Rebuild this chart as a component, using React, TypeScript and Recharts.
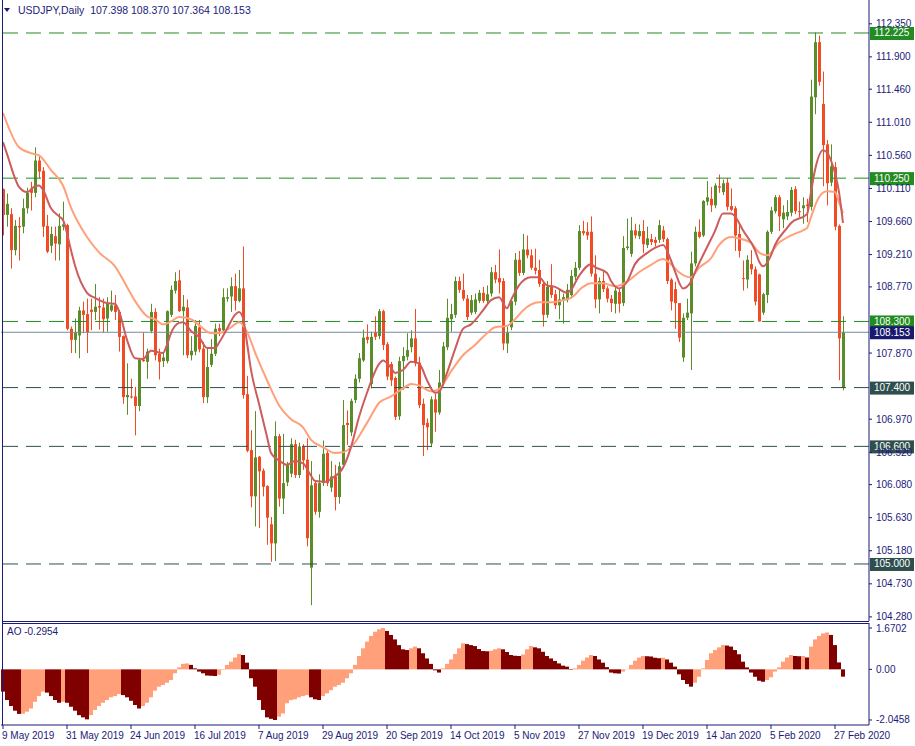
import React from 'react';
import { ComposedChart, Bar, Line, XAxis, YAxis, ReferenceLine, Cell } from 'recharts';

// time axis labels, one every 16 daily bars
const tickLabels = [
  '9 May 2019', '31 May 2019', '24 Jun 2019', '16 Jul 2019', '7 Aug 2019', '29 Aug 2019', '20 Sep 2019',
  '14 Oct 2019', '5 Nov 2019', '27 Nov 2019', '19 Dec 2019', '14 Jan 2020', '5 Feb 2020', '27 Feb 2020',
];

// USDJPY daily OHLC
const opens = [
  110.10, 109.75, 109.76, 109.27, 109.60, 109.59, 109.84, 110.11, 110.05, 110.49, 110.35, 109.60, 109.33, 109.46, 109.35, 109.59,
  109.61, 108.20, 108.05, 108.11, 108.45, 108.40, 108.46, 108.43, 108.51, 108.49, 108.34, 108.45, 108.52, 108.43, 108.10, 107.27,
  107.28, 107.28, 107.15, 107.78, 107.75, 108.17, 108.43, 107.86, 107.76, 107.76, 108.39, 108.72, 108.86, 108.44, 108.49, 107.84,
  107.89, 108.22, 107.93, 107.27, 107.71, 107.86, 108.21, 108.18, 108.61, 108.64, 108.78, 108.58, 108.75, 107.31, 106.55, 105.92,
  106.46, 106.27, 106.06, 105.54, 105.28, 106.74, 105.89, 106.11, 106.23, 106.63, 106.21, 106.60, 106.42, 104.95, 106.10, 105.71,
  106.10, 106.51, 106.04, 106.19, 105.91, 106.35, 106.92, 106.79, 107.23, 107.52, 107.77, 108.09, 107.45, 108.15, 108.10, 108.44,
  107.99, 107.72, 107.53, 107.01, 107.76, 107.82, 107.95, 108.07, 107.74, 107.18, 106.92, 106.64, 107.24, 107.06, 107.46, 107.95,
  108.33, 108.39, 108.85, 108.73, 108.61, 108.42, 108.43, 108.58, 108.69, 108.58, 108.68, 108.97, 108.89, 108.85, 108.00, 108.22,
  108.57, 109.14, 108.96, 109.28, 109.20, 109.03, 109.00, 108.81, 108.39, 108.79, 108.67, 108.52, 108.59, 108.59, 108.66, 108.91,
  109.03, 109.53, 109.52, 109.52, 108.95, 108.60, 108.85, 108.75, 108.61, 108.54, 108.70, 108.55, 109.30, 109.22, 109.54, 109.46,
  109.53, 109.34, 109.42, 109.41, 109.41, 109.54, 109.42, 108.87, 108.74, 108.55, 107.81, 108.35, 108.41, 109.09, 109.52, 109.47,
  109.93, 109.97, 109.88, 110.14, 110.06, 110.19, 109.87, 109.84, 109.49, 108.89, 108.87, 109.08, 109.01, 108.94, 108.42, 108.66,
  109.52, 109.80, 109.99, 109.69, 109.73, 109.78, 110.10, 109.80, 109.84, 109.89, 109.86, 111.35, 112.10, 111.26, 110.71, 110.19,
  110.40, 109.60, 107.398,
];
const highs = [
  110.11, 110.04, 109.84, 109.68, 109.72, 109.97, 110.12, 110.20, 110.67, 110.56, 110.40, 109.75, 109.59, 109.59, 109.77, 109.93,
  109.63, 108.23, 108.34, 108.50, 108.57, 108.61, 108.61, 108.81, 108.63, 108.61, 108.63, 108.72, 108.66, 108.45, 108.11, 107.73,
  107.52, 107.41, 107.80, 108.15, 107.93, 108.54, 108.48, 107.93, 107.87, 108.45, 108.79, 108.97, 109.00, 108.66, 108.60, 108.10,
  108.32, 108.32, 108.02, 107.93, 108.06, 108.27, 108.27, 108.75, 108.75, 108.90, 108.95, 109.00, 109.32, 107.56, 106.82, 107.08,
  106.47, 106.30, 106.07, 105.64, 106.94, 106.77, 106.77, 106.39, 106.71, 106.69, 106.65, 106.63, 106.71, 106.40, 106.12, 106.22,
  106.68, 106.55, 106.40, 106.35, 106.39, 107.23, 107.09, 107.25, 107.58, 107.87, 108.19, 108.26, 108.16, 108.37, 108.47, 108.46,
  108.02, 107.75, 107.55, 107.82, 107.95, 108.14, 108.18, 108.47, 107.82, 107.25, 106.98, 107.28, 107.32, 107.64, 108.02, 108.61,
  108.54, 108.91, 108.91, 108.95, 108.66, 108.66, 108.68, 108.73, 108.77, 108.79, 109.04, 109.07, 109.28, 108.89, 108.23, 108.63,
  109.23, 109.26, 109.49, 109.47, 109.28, 109.29, 109.14, 108.84, 108.85, 109.08, 108.73, 108.74, 108.68, 108.81, 109.00, 109.11,
  109.61, 109.67, 109.65, 109.73, 109.20, 108.90, 109.00, 108.78, 108.66, 108.77, 108.75, 109.46, 109.70, 109.72, 109.63, 109.62,
  109.68, 109.59, 109.49, 109.45, 109.68, 109.60, 109.44, 108.89, 108.84, 108.55, 108.41, 108.61, 109.25, 109.59, 109.69, 109.95,
  110.21, 110.13, 110.18, 110.30, 110.23, 110.25, 110.11, 109.87, 109.61, 109.13, 109.20, 109.27, 109.05, 108.95, 108.69, 109.54,
  109.86, 110.02, 110.02, 109.88, 109.95, 110.13, 110.14, 109.93, 109.99, 109.97, 111.59, 112.23, 112.19, 111.70, 110.77, 110.71,
  110.47, 109.62, 108.37,
];
const lows = [
  109.47, 109.59, 109.02, 109.20, 109.13, 109.50, 109.77, 109.81, 109.99, 110.25, 109.45, 109.23, 109.23, 109.13, 109.13, 109.54,
  108.18, 107.87, 107.87, 107.80, 108.14, 107.87, 108.18, 108.32, 108.19, 108.15, 108.16, 108.43, 108.32, 107.89, 107.18, 107.03,
  107.25, 106.75, 107.08, 107.75, 107.52, 108.14, 107.77, 107.51, 107.68, 107.73, 108.36, 108.68, 108.43, 107.84, 107.80, 107.77,
  107.84, 107.88, 107.19, 107.19, 107.68, 107.83, 108.10, 108.14, 108.57, 108.43, 108.45, 108.56, 107.25, 106.52, 105.77, 105.51,
  105.49, 105.92, 105.26, 105.03, 105.04, 105.78, 105.68, 106.06, 106.18, 106.17, 106.17, 106.28, 105.24, 104.44, 105.67, 105.63,
  106.06, 106.06, 105.98, 105.73, 105.82, 106.32, 106.62, 106.74, 107.19, 107.47, 107.75, 108.00, 107.39, 108.05, 108.06, 107.91,
  107.50, 107.42, 106.96, 106.96, 107.37, 107.77, 107.88, 107.69, 107.12, 106.47, 106.55, 106.59, 106.80, 107.03, 107.42, 107.91,
  108.16, 108.35, 108.69, 108.58, 108.32, 108.39, 108.40, 108.55, 108.55, 108.55, 108.64, 108.82, 108.68, 107.91, 107.87, 108.18,
  108.52, 108.92, 108.93, 109.16, 109.00, 108.94, 108.77, 108.23, 108.35, 108.62, 108.47, 108.33, 108.27, 108.56, 108.62, 108.86,
  109.00, 109.47, 109.41, 108.91, 108.48, 108.41, 108.70, 108.56, 108.43, 108.41, 108.42, 108.51, 109.27, 109.18, 109.43, 109.42,
  109.23, 109.30, 109.34, 109.32, 109.37, 109.38, 108.81, 108.45, 108.20, 108.02, 107.75, 108.32, 107.64, 109.05, 109.43, 109.45,
  109.88, 109.79, 109.84, 110.05, 110.02, 109.81, 109.80, 109.26, 109.17, 108.72, 108.75, 108.94, 108.52, 108.30, 108.39, 108.55,
  109.49, 109.77, 109.53, 109.57, 109.68, 109.73, 109.76, 109.72, 109.63, 109.65, 109.81, 111.12, 111.51, 110.14, 109.88, 110.14,
  109.54, 107.50, 107.364,
];
const closes = [
  109.75, 109.90, 109.27, 109.60, 109.58, 109.84, 110.05, 110.05, 110.49, 110.34, 109.59, 109.25, 109.49, 109.36, 109.60, 109.62,
  108.20, 108.05, 108.15, 108.45, 108.39, 108.15, 108.43, 108.50, 108.49, 108.33, 108.55, 108.52, 108.43, 108.09, 107.27, 107.30,
  107.27, 107.15, 107.78, 107.76, 107.89, 108.43, 107.84, 107.75, 107.81, 108.44, 108.73, 108.85, 108.44, 108.50, 107.84, 107.90,
  108.24, 107.92, 107.27, 107.68, 107.86, 108.20, 108.17, 108.63, 108.63, 108.78, 108.58, 108.75, 107.30, 106.54, 105.92, 106.45,
  106.26, 106.05, 105.63, 105.28, 106.74, 105.89, 106.10, 106.35, 106.63, 106.21, 106.60, 106.41, 105.35, 106.07, 105.71, 106.10,
  106.50, 106.10, 106.19, 105.91, 106.33, 106.89, 106.89, 107.22, 107.52, 107.80, 108.08, 108.05, 108.09, 108.09, 108.44, 107.98,
  107.55, 107.50, 107.00, 107.76, 107.83, 107.91, 108.07, 107.73, 107.16, 106.89, 106.86, 107.24, 107.06, 107.47, 107.96, 108.35,
  108.40, 108.85, 108.73, 108.61, 108.36, 108.59, 108.60, 108.69, 108.58, 108.67, 108.97, 108.87, 108.83, 108.00, 108.15, 108.58,
  109.14, 108.96, 109.28, 109.20, 109.03, 108.99, 108.81, 108.39, 108.77, 108.66, 108.52, 108.60, 108.63, 108.73, 108.92, 109.03,
  109.53, 109.50, 109.47, 108.95, 108.60, 108.85, 108.74, 108.61, 108.55, 108.72, 108.54, 109.30, 109.32, 109.54, 109.47, 109.53,
  109.35, 109.43, 109.38, 109.37, 109.61, 109.42, 108.85, 108.57, 108.55, 108.08, 108.35, 108.42, 109.09, 109.52, 109.45, 109.94,
  109.99, 109.88, 110.15, 110.12, 110.18, 109.86, 109.82, 109.47, 109.26, 108.88, 109.14, 109.01, 108.57, 108.30, 108.67, 109.52,
  109.81, 109.99, 109.73, 109.78, 109.79, 110.09, 109.80, 109.79, 109.88, 109.87, 111.36, 112.10, 111.56, 110.70, 110.18, 110.41,
  109.59, 108.07, 108.153,
];

// moving averages, read as [bar, price] points along each line
const maFastPts: [number, number][] = [
  [0, 110.74], [1, 110.58], [3, 110.25], [4, 110.13], [6, 110.06], [8, 110.14], [9, 110.15], [10, 110.09], [12, 109.84],
  [14, 109.73], [15, 109.68], [17, 109.27], [18, 109.06], [21, 108.69], [23, 108.62], [26, 108.55], [28, 108.54], [29, 108.44],
  [31, 108.05], [33, 107.80], [35, 107.79], [37, 107.90], [40, 107.87], [41, 107.98], [42, 108.14], [44, 108.28], [45, 108.29],
  [47, 108.17], [49, 108.09], [51, 107.94], [53, 107.94], [54, 108.01], [56, 108.20], [58, 108.39], [59, 108.43], [60, 108.35],
  [61, 108.01], [62, 107.64], [64, 107.18], [66, 106.73], [67, 106.51], [69, 106.41], [71, 106.35], [73, 106.40], [75, 106.37],
  [77, 106.20], [78, 106.13], [81, 106.12], [82, 106.16], [85, 106.31], [87, 106.59], [89, 107.00], [91, 107.33], [94, 107.72],
  [95, 107.77], [97, 107.67], [98, 107.60], [100, 107.64], [102, 107.75], [104, 107.73], [106, 107.50], [108, 107.33], [109, 107.34],
  [111, 107.60], [113, 107.92], [115, 108.20], [117, 108.26], [120, 108.45], [122, 108.59], [124, 108.63], [126, 108.48], [127, 108.59],
  [129, 108.79], [132, 108.90], [134, 108.90], [136, 108.79], [138, 108.77], [141, 108.69], [142, 108.73], [144, 108.92], [147, 109.08],
  [148, 109.04], [151, 108.96], [152, 108.85], [154, 108.75], [156, 108.84], [158, 109.08], [161, 109.23], [163, 109.30], [165, 109.34],
  [167, 109.13], [168, 108.98], [170, 108.75], [172, 108.84], [173, 108.97], [176, 109.31], [178, 109.53], [180, 109.77], [182, 109.77],
  [183, 109.73], [185, 109.54], [188, 109.27], [189, 109.12], [190, 109.05], [192, 109.20], [193, 109.34], [196, 109.57], [197, 109.64],
  [201, 109.76], [202, 110.06], [203, 110.36], [205, 110.63], [206, 110.60], [207, 110.49], [208, 110.32], [209, 110.06], [210, 109.64],
];
const maSlowPts: [number, number][] = [
  [0, 111.14], [4, 110.67], [7, 110.59], [9, 110.56], [12, 110.36], [15, 110.15], [17, 109.85], [21, 109.45], [24, 109.24],
  [28, 109.05], [31, 108.77], [33, 108.58], [36, 108.37], [38, 108.33], [40, 108.26], [42, 108.30], [44, 108.36], [47, 108.33],
  [49, 108.25], [52, 108.14], [54, 108.14], [57, 108.22], [59, 108.29], [61, 108.16], [63, 107.88], [66, 107.50], [69, 107.16],
  [72, 106.97], [75, 106.86], [77, 106.69], [80, 106.59], [83, 106.51], [85, 106.52], [87, 106.59], [91, 106.92], [94, 107.19],
  [97, 107.28], [100, 107.39], [102, 107.45], [104, 107.43], [107, 107.35], [109, 107.38], [112, 107.62], [115, 107.84], [118, 107.98],
  [121, 108.14], [123, 108.22], [126, 108.24], [128, 108.33], [130, 108.45], [134, 108.56], [137, 108.56], [140, 108.59], [142, 108.62],
  [145, 108.77], [147, 108.82], [150, 108.82], [153, 108.78], [156, 108.84], [159, 108.97], [162, 109.07], [165, 109.15], [167, 109.08],
  [169, 108.97], [172, 108.90], [174, 109.03], [177, 109.16], [179, 109.34], [182, 109.45], [184, 109.43], [187, 109.37], [189, 109.24],
  [191, 109.20], [194, 109.37], [197, 109.47], [200, 109.54], [201, 109.57], [202, 109.72], [204, 109.99], [206, 110.07], [208, 110.06],
  [209, 109.92], [210, 109.77],
];

// Awesome Oscillator, one value per bar
const aoValues = [
  -0.90, -1.24, -1.48, -1.67, -1.80, -1.79, -1.71, -1.58, -1.31, -1.08, -0.90, -0.94, -1.08, -1.24, -1.35, -1.31,
  -1.35, -1.51, -1.67, -1.85, -1.94, -2.02, -1.85, -1.64, -1.48, -1.35, -1.24, -1.13, -1.08, -1.00, -1.04, -1.13,
  -1.27, -1.44, -1.58, -1.48, -1.35, -1.13, -0.86, -0.70, -0.63, -0.54, -0.43, -0.16, 0.08, 0.22, 0.24, 0.18,
  0.04, -0.09, -0.16, -0.25, -0.26, -0.27, -0.22, -0.02, 0.18, 0.31, 0.48, 0.62, 0.58, 0.27, -0.36, -0.70,
  -1.24, -1.64, -1.94, -2.00, -2.0458, -1.91, -1.78, -1.37, -1.24, -1.21, -1.13, -1.08, -1.04, -1.13, -1.21, -1.24,
  -1.08, -0.97, -0.84, -0.70, -0.63, -0.54, -0.36, -0.16, 0.18, 0.54, 0.85, 1.12, 1.35, 1.52, 1.62, 1.6702,
  1.55, 1.39, 1.21, 0.98, 0.81, 0.78, 0.85, 0.92, 0.85, 0.65, 0.44, 0.22, -0.04, -0.13, 0.04, 0.22,
  0.40, 0.62, 0.85, 1.05, 1.02, 0.98, 0.94, 0.82, 0.74, 0.73, 0.75, 0.81, 0.85, 0.81, 0.70, 0.58,
  0.55, 0.54, 0.60, 0.81, 0.94, 0.89, 0.85, 0.71, 0.54, 0.44, 0.34, 0.24, 0.15, 0.11, -0.02, 0.04,
  0.18, 0.35, 0.48, 0.58, 0.54, 0.40, 0.27, 0.09, -0.13, -0.16, -0.17, -0.09, 0.01, 0.18, 0.35, 0.48,
  0.54, 0.53, 0.52, 0.47, 0.45, 0.47, 0.40, 0.27, 0.11, -0.20, -0.43, -0.59, -0.70, -0.54, -0.30, 0.04,
  0.38, 0.65, 0.78, 0.89, 0.98, 0.96, 0.92, 0.78, 0.61, 0.31, 0.08, -0.13, -0.30, -0.46, -0.50, -0.43,
  -0.32, -0.09, 0.08, 0.31, 0.48, 0.58, 0.54, 0.53, 0.54, 0.48, 0.92, 1.21, 1.35, 1.45, 1.49, 1.39,
  0.98, 0.28, -0.2954,
];

const priceTicks = [112.35, 111.9, 111.46, 111.01, 110.56, 110.11, 109.66, 109.21, 108.77, 107.87, 106.97, 106.52, 106.08, 105.63, 105.18, 104.73, 104.28];
const aoTicks = [1.6702, 0, -2.0458];
const greenLevels = [112.225, 110.25, 108.3];
const darkLevels = [107.4, 106.6, 105.0];
const lastPrice = 108.153;
const EMPTY_BARS = 6; // chart shift on the right

const FONT = '"Liberation Sans", Arial, sans-serif';
const FS = 10;
const NAVY = '#1b1b78';
const BULL = '#5b8c2a';
const BEAR = '#f24b24';

const fastMap = new Map(maFastPts);
const slowMap = new Map(maSlowPts);
const rows = Array.from({ length: opens.length + EMPTY_BARS }, (_, i) => {
  if (i >= opens.length) return { i, range: null, ao: null, maFast: null, maSlow: null };
  return {
    i,
    open: opens[i],
    high: highs[i],
    low: lows[i],
    close: closes[i],
    range: [lows[i], highs[i]],
    maFast: fastMap.get(i) ?? null,
    maSlow: slowMap.get(i) ?? null,
    ao: aoValues[i],
  };
});

const Candle = (props: any) => {
  const { x, y, width, height, payload } = props;
  if (!payload || payload.open == null) return null;
  const { open, close, high, low } = payload;
  const top = Math.min(y, y + height);
  const h = Math.abs(height);
  const k = high > low ? h / (high - low) : 0;
  const yO = top + (high - open) * k;
  const yC = top + (high - close) * k;
  const cx = Math.round(x + width / 2);
  const color = close >= open ? BULL : BEAR;
  return (
    <g>
      <rect x={cx} y={top} width={1} height={Math.max(h, 1)} fill={color} />
      <rect x={cx - 1} y={Math.min(yO, yC)} width={3} height={Math.max(Math.abs(yO - yC), 1)} fill={color} />
    </g>
  );
};

const PriceTick = ({ x, y, payload }: any) => (
  <text x={x} y={y} dy={3.5} fill={NAVY} fontSize={FS} fontFamily={FONT}>
    {payload.value.toFixed(3)}
  </text>
);

const AoTick = ({ x, y, payload }: any) => (
  <text x={x} y={y} dy={3.5} fill={NAVY} fontSize={FS} fontFamily={FONT}>
    {payload.value === 0 ? '0.00' : payload.value.toFixed(4)}
  </text>
);

const TimeTick = ({ x, y, payload }: any) => (
  <text x={x - 1} y={y + 8} fill={NAVY} fontSize={FS} fontFamily={FONT}>
    {tickLabels[payload.value / 16]}
  </text>
);

const priceTag = (value: number, fill: string) => (props: any) => {
  const vy = props.viewBox ? props.viewBox.y : 0;
  return (
    <g>
      <rect x={870} y={vy - 6} width={44} height={13} fill={fill} />
      <text x={874} y={vy + 3.5} fill="#ffffff" fontSize={FS} fontFamily={FONT}>
        {value.toFixed(3)}
      </text>
    </g>
  );
};

export default function App() {
  return (
    <div style={{ position: 'absolute', left: 0, top: 0, width: 915, height: 746, background: '#ffffff', overflow: 'hidden' }}>
      <div style={{ position: 'absolute', left: 0, top: 0 }}>
        <ComposedChart width={915} height={621} data={rows} margin={{ top: 0, right: 0, bottom: 0, left: 1 }} barCategoryGap={0} barGap={0}>
          <XAxis dataKey="i" hide />
          <YAxis
            orientation="right"
            width={46}
            domain={[104.224, 112.674]}
            allowDataOverflow
            ticks={priceTicks}
            interval={0}
            tickSize={3}
            tickMargin={4}
            axisLine={{ stroke: NAVY }}
            tickLine={{ stroke: NAVY }}
            tick={<PriceTick />}
          />
          {greenLevels.map((v) => (
            <ReferenceLine key={v} y={v} stroke="#228b22" strokeDasharray="15 8" label={priceTag(v, '#228b22')} />
          ))}
          {darkLevels.map((v) => (
            <ReferenceLine key={v} y={v} stroke="#2f4f4f" strokeDasharray="15 8" label={priceTag(v, '#2f4f4f')} />
          ))}
          <ReferenceLine y={lastPrice} stroke="#778899" label={priceTag(lastPrice, '#191970')} />
          <Bar dataKey="range" shape={<Candle />} isAnimationActive={false} />
          <Line dataKey="maSlow" type="monotone" stroke="#ffa07a" strokeWidth={2} dot={false} connectNulls isAnimationActive={false} />
          <Line dataKey="maFast" type="monotone" stroke="#cd5c5c" strokeWidth={2} dot={false} connectNulls isAnimationActive={false} />
        </ComposedChart>
      </div>

      <div style={{ position: 'absolute', left: 0, top: 623 }}>
        <ComposedChart width={915} height={123} data={rows} margin={{ top: 0, right: 0, bottom: 0, left: 1 }} barCategoryGap={0} barGap={0}>
          <XAxis
            dataKey="i"
            ticks={tickLabels.map((_, k) => k * 16)}
            interval={0}
            height={21}
            tickSize={4}
            tickMargin={2}
            axisLine={{ stroke: NAVY }}
            tickLine={{ stroke: NAVY }}
            tick={<TimeTick />}
          />
          <YAxis
            orientation="right"
            width={46}
            domain={[-2.2478, 1.8722]}
            allowDataOverflow
            ticks={aoTicks}
            interval={0}
            tickSize={3}
            tickMargin={4}
            axisLine={{ stroke: NAVY }}
            tickLine={{ stroke: NAVY }}
            tick={<AoTick />}
          />
          <Bar dataKey="ao" isAnimationActive={false}>
            {rows.map((r, i) => (
              <Cell key={i} fill={i > 0 && r.ao != null && r.ao > (rows[i - 1].ao as number) ? '#ffa07a' : '#800000'} />
            ))}
          </Bar>
        </ComposedChart>
      </div>

      <svg width={915} height={746} style={{ position: 'absolute', left: 0, top: 0, pointerEvents: 'none' }}>
        <line x1={2.5} y1={0} x2={2.5} y2={725} stroke={NAVY} />
        <line x1={2} y1={621.5} x2={869} y2={621.5} stroke={NAVY} />
        <line x1={2} y1={623.5} x2={869} y2={623.5} stroke={NAVY} />
        <path d="M4 8 L10 8 L7 12 Z" fill={NAVY} />
        <text x={18} y={14} fill={NAVY} fontSize={10.5} fontFamily={FONT} style={{ whiteSpace: 'pre' }}>
          {'USDJPY,Daily  107.398 108.370 107.364 108.153'}
        </text>
        <text x={7} y={635} fill={NAVY} fontSize={FS} fontFamily={FONT}>
          AO -0.2954
        </text>
      </svg>
    </div>
  );
}
